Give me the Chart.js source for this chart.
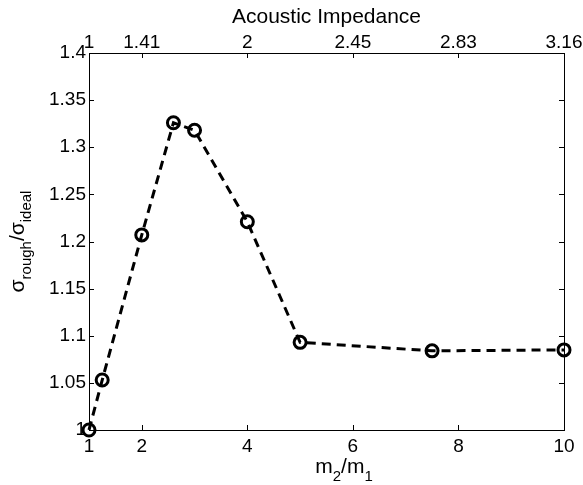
<!DOCTYPE html>
<html>
<head>
<meta charset="utf-8">
<script src="https://cdn.jsdelivr.net/npm/chart.js@4.4.1/dist/chart.umd.min.js"></script>
<style>
  html, body { margin: 0; padding: 0; background: #fff; }
  canvas { display: block; }
</style>
</head>
<body>
<canvas id="chart" width="583" height="485"></canvas>
<script>
// Mass ratio m2/m1 and the roughness ratio sigma_rough / sigma_ideal
const massRatio  = [1, 1.25, 2, 2.6, 3, 4, 5, 7.5, 10];
const sigmaRatio = [1.000, 1.053, 1.207, 1.326, 1.318, 1.221, 1.093, 1.084, 1.085];

// Bottom axis (mass ratio)
const bottomTicks      = [1, 2, 4, 6, 8, 10];
const bottomTickLabels = ['1', '2', '4', '6', '8', '10'];

// Top axis (acoustic impedance = sqrt of mass ratio)
const impedanceTicks      = [1, 2, 4, 6, 8, 10];
const impedanceTickLabels = ['1', '1.41', '2', '2.45', '2.83', '3.16'];

// Vertical axis
const yTicks      = [1, 1.05, 1.1, 1.15, 1.2, 1.25, 1.3, 1.35, 1.4];
const yTickLabels = ['1', '1.05', '1.1', '1.15', '1.2', '1.25', '1.3', '1.35', '1.4'];

// Axis titles; second element marks a subscript run
const topTitle = 'Acoustic Impedance';
const xTitle = [['m', false], ['2', true], ['/m', false], ['1', true]];
const yTitle = [['σ', false], ['rough', true], ['/σ', false], ['ideal', true]];

const FAMILY = '"Liberation Sans", Arial, Helvetica, sans-serif';
const TICK_SIZE = 19;
const LABEL_SIZE = 21;
const SUB_SIZE = 15;
const SUB_DROP = 7.5;

function font(size) { return size + 'px ' + FAMILY; }

// Draw a run of text with subscripts, centred on (x, y) along its baseline
function drawRich(ctx, parts, x, y, rot) {
  ctx.save();
  ctx.translate(x, y);
  ctx.rotate(rot);
  ctx.fillStyle = '#000';
  ctx.textBaseline = 'alphabetic';
  ctx.textAlign = 'left';
  let total = 0;
  parts.forEach(([t, sub]) => { ctx.font = font(sub ? SUB_SIZE : LABEL_SIZE); total += ctx.measureText(t).width; });
  let cx = -total / 2;
  parts.forEach(([t, sub]) => {
    ctx.font = font(sub ? SUB_SIZE : LABEL_SIZE);
    ctx.fillText(t, cx, sub ? SUB_DROP : 0);
    cx += ctx.measureText(t).width;
  });
  ctx.restore();
}

// Inward tick marks on all four sides, plus the axis titles
const framePlugin = {
  id: 'framePlugin',
  afterDraw(chart) {
    const ctx = chart.ctx;
    const a = chart.chartArea;
    const len = 5;
    ctx.save();
    ctx.strokeStyle = '#000';
    ctx.lineWidth = 1;
    ctx.beginPath();
    const sx = chart.scales.x, sx2 = chart.scales.x2, sy = chart.scales.y, sy2 = chart.scales.y2;
    sx.ticks.forEach(t => {
      const p = Math.round(sx.getPixelForValue(t.value)) + 0.5;
      ctx.moveTo(p, a.bottom); ctx.lineTo(p, a.bottom - len);
    });
    sx2.ticks.forEach(t => {
      const p = Math.round(sx2.getPixelForValue(t.value)) + 0.5;
      ctx.moveTo(p, a.top); ctx.lineTo(p, a.top + len);
    });
    sy.ticks.forEach(t => {
      const p = Math.round(sy.getPixelForValue(t.value)) + 0.5;
      ctx.moveTo(a.left, p); ctx.lineTo(a.left + len, p);
    });
    sy2.ticks.forEach(t => {
      const p = Math.round(sy2.getPixelForValue(t.value)) + 0.5;
      ctx.moveTo(a.right, p); ctx.lineTo(a.right - len, p);
    });
    ctx.stroke();

    // Top title
    ctx.fillStyle = '#000';
    ctx.font = font(LABEL_SIZE);
    ctx.textAlign = 'center';
    ctx.textBaseline = 'alphabetic';
    ctx.fillText(topTitle, (a.left + a.right) / 2, a.top - 30);
    ctx.restore();

    // Bottom and left titles
    drawRich(ctx, xTitle, (a.left + a.right) / 2 + 17.5, a.bottom + 43, 0);
    drawRich(ctx, yTitle, a.left - 65.5, (a.top + a.bottom) / 2, -Math.PI / 2);
  }
};

const tickFont = { family: FAMILY, size: TICK_SIZE };
const border = { display: true, color: '#000', width: 1 };
const noGrid = { display: false, drawTicks: false };

new Chart(document.getElementById('chart'), {
  type: 'line',
  data: {
    datasets: [{
      data: massRatio.map((x, i) => ({ x: x, y: sigmaRatio[i] })),
      borderColor: '#000',
      borderWidth: 3,
      borderDash: [9, 6],
      fill: false,
      tension: 0,
      pointStyle: 'circle',
      pointRadius: 6,
      pointBorderWidth: 3,
      pointBorderColor: '#000',
      pointBackgroundColor: 'rgba(0,0,0,0)',
      clip: false,
      xAxisID: 'x',
      yAxisID: 'y'
    }]
  },
  options: {
    responsive: false,
    devicePixelRatio: 1,
    animation: false,
    layout: { padding: { left: 0, right: 19, top: 0, bottom: 0 } },
    plugins: { legend: { display: false }, tooltip: { enabled: false } },
    scales: {
      x: {
        type: 'linear', position: 'bottom', min: 1, max: 10,
        grid: noGrid, border: border,
        ticks: {
          font: tickFont, color: '#000', padding: 5.5, maxRotation: 0, autoSkip: false,
          callback: v => bottomTickLabels[bottomTicks.indexOf(v)]
        },
        afterBuildTicks: s => { s.ticks = bottomTicks.map(v => ({ value: v })); },
        afterFit: s => { s.height = 55; s.paddingLeft = 0; s.paddingRight = 0; }
      },
      x2: {
        type: 'linear', position: 'top', min: 1, max: 10,
        grid: noGrid, border: border,
        ticks: {
          font: tickFont, color: '#000', padding: -1, maxRotation: 0, autoSkip: false,
          callback: v => impedanceTickLabels[impedanceTicks.indexOf(v)]
        },
        afterBuildTicks: s => { s.ticks = impedanceTicks.map(v => ({ value: v })); },
        afterFit: s => { s.height = 53; s.paddingLeft = 0; s.paddingRight = 0; }
      },
      y: {
        type: 'linear', position: 'left', min: 1, max: 1.4,
        grid: noGrid, border: border,
        ticks: {
          font: tickFont, color: '#000', padding: 3, autoSkip: false,
          callback: v => yTickLabels[yTicks.findIndex(t => Math.abs(t - v) < 1e-9)]
        },
        afterBuildTicks: s => { s.ticks = yTicks.map(v => ({ value: v })); },
        afterFit: s => { s.width = 89; s.paddingTop = 0; s.paddingBottom = 0; }
      },
      y2: {
        type: 'linear', position: 'right', min: 1, max: 1.4,
        grid: noGrid, border: border,
        ticks: { display: false },
        afterBuildTicks: s => { s.ticks = yTicks.map(v => ({ value: v })); },
        afterFit: s => { s.width = 0; s.paddingTop = 0; s.paddingBottom = 0; }
      }
    }
  },
  plugins: [framePlugin]
});
</script>
</body>
</html>
